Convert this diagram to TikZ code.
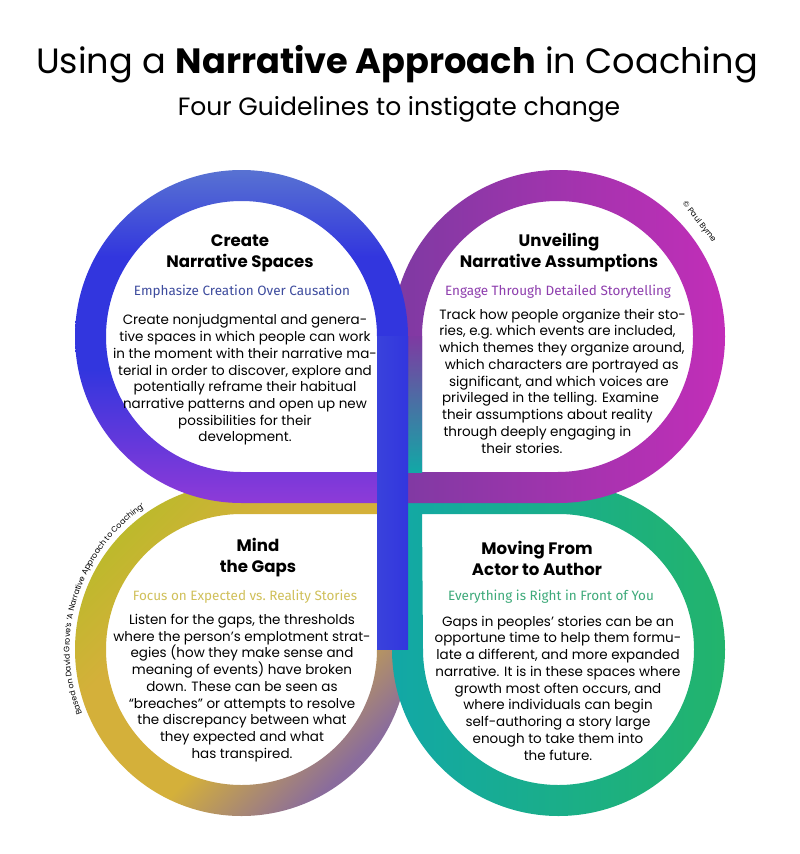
\documentclass[tikz,border=0pt]{standalone}
\usepackage{fontspec}
\setmainfont{Poppins}
\newfontfamily\fira{Fira Sans}
\usetikzlibrary{decorations.text}
\definecolor{tlblue}{HTML}{5872D2}
\definecolor{tldeep}{HTML}{3236DE}
\definecolor{tlpurp}{HTML}{8E3AD8}
\definecolor{trdark}{HTML}{7E3AA2}
\definecolor{trmag}{HTML}{C22EB8}
\definecolor{blyel}{HTML}{BDB92C}
\definecolor{blgold}{HTML}{D4B03A}
\definecolor{blmauve}{HTML}{8A6C9C}
\definecolor{brgreen}{HTML}{22B46C}
\definecolor{brteal}{HTML}{12A8A6}
\definecolor{subtl}{HTML}{3E4C9E}
\definecolor{subtr}{HTML}{8E3EAE}
\definecolor{subbl}{HTML}{D0C05A}
\definecolor{subbr}{HTML}{3EAA7A}
\pgfdeclareverticalshading{blshade}{100bp}{color(0bp)=(blmauve); color(26bp)=(blmauve);
  color(42bp)=(blgold); color(62bp)=(blgold); color(75bp)=(blyel); color(100bp)=(blyel)}
\pgfdeclareverticalshading{tlshade}{100bp}{color(0bp)=(tlpurp); color(25bp)=(tlpurp);
  color(45bp)=(tldeep); color(62bp)=(tldeep); color(75bp)=(tlblue); color(100bp)=(tlblue)}

\begin{document}
\begin{tikzpicture}[x=0.025cm,y=-0.025cm,
  head/.style={font=\bfseries\fontsize{11.8}{14.9}\selectfont,align=center,inner sep=0pt},
  sub/.style={font=\fira\fontsize{9.6}{11}\selectfont,inner sep=0pt},
  body/.style={font=\fontsize{9.6}{11.9}\selectfont,align=center,inner sep=0pt},
  tiny/.style={font=\fontsize{5.6}{6}\selectfont,inner sep=0pt}]
\useasboundingbox[fill=white] (0,0) rectangle (800,854);

% rings: bottom loops first, top loops over them
\shade[even odd rule,shading=blshade,shading angle=45]
  (408,483) -- (408,649.5) arc[start angle=0,end angle=270,radius=166.5] -- cycle
  (377,514) -- (377,649.5) arc[start angle=0,end angle=270,radius=135.5] -- cycle;
\shade[even odd rule,left color=brteal,right color=brgreen]
  (392,483) -- (558.5,483) arc[start angle=-90,end angle=180,radius=166.5] -- cycle
  (422,514) -- (558.5,514) arc[start angle=-90,end angle=180,radius=135.5] -- cycle;
\shade[even odd rule,left color=trdark,right color=trmag]
  (392,503) -- (392,336.5) arc[start angle=180,end angle=450,radius=166.5] -- cycle
  (422,472) -- (422,336.5) arc[start angle=180,end angle=450,radius=135.5] -- cycle;
\shade[top color=trdark,bottom color=brteal] (392,336.5) rectangle (422,472);
\shade[even odd rule,shading=tlshade]
  (408,503) -- (241.5,503) arc[start angle=90,end angle=360,radius=166.5] -- cycle
  (377,472) -- (241.5,472) arc[start angle=90,end angle=360,radius=135.5] -- cycle;
\shade[left color=tldeep!80!tlblue,right color=tldeep] (377,336.5) rectangle (408,649.5);

% titles
\node[font=\fontsize{25}{30}\selectfont] (title) at (397,64)
  {Using a \textbf{Narrative Approach} in Coaching};
\node[font=\fontsize{17.8}{21}\selectfont] (subtitle) at (399,109)
  {Four Guidelines to instigate change};

% top left
\node[head] (h1) at (240,253) {Create\\Narrative Spaces};
\node[sub,text=subtl] (s1) at (242,292) {Emphasize Creation Over Causation};
\node[body] (b1) at (245,380) {Create nonjudgmental and genera-\\
  tive spaces in which people can work\\
  in the moment with their narrative ma-\\
  terial in order to discover, explore and\\
  potentially reframe their habitual\\
  narrative patterns and open up new\\
  possibilities for their\\
  development.};

% top right
\node[head] (h2) at (559,253) {Unveiling\\Narrative Assumptions};
\node[sub,text=subtr] (s2) at (558,292) {Engage Through Detailed Storytelling};
\node[body,align=left,anchor=west] (b2) at (439,381) {Track how people organize their sto-\\
  ries, e.g.\ which events are included,\\
  which themes they organize around,\\
  \hspace*{4pt}which characters are portrayed as\\
  \hspace*{7pt}significant, and which voices are\\
  \hspace*{2pt}privileged in the telling. Examine\\
  \hspace*{2pt}their assumptions about reality\\
  \hspace*{3pt}through deeply engaging in\\
  \hspace*{30pt}their stories.};

% bottom left
\node[head] (h3) at (258,558) {Mind\\the Gaps};
\node[sub,text=subbl] (s3) at (245,597) {Focus on Expected vs.\ Reality Stories};
\node[body] (b3) at (242,688) {Listen for the gaps, the thresholds\\
  where the person’s emplotment strat-\\
  egies (how they make sense and\\
  meaning of events) have broken\\
  down. These can be seen as\\
  “breaches” or attempts to resolve\\
  the discrepancy between what\\
  they expected and what\\
  has transpired.};

% bottom right
\node[head] (h4) at (537,558) {Moving From\\Actor to Author};
\node[sub,text=subbr] (s4) at (551,597) {Everything is Right in Front of You};
\node[body] (b4) at (558,688) {Gaps in peoples’ stories can be an\\
  opportune time to help them formu-\\
  late a different, and more expanded\\
  narrative. It is in these spaces where\\
  growth most often occurs, and\\
  where individuals can begin\\
  self-authoring a story large\\
  enough to take them into\\
  the future.};

% credits
\node[tiny,rotate=-52] (credit) at (699,222) {© Paul Byrne};
\path[decorate,decoration={text along path,
  text={|\fontsize{5.6}{6}\selectfont|Based on David Grove’s ‘A Narrative Approach to Coaching’}}]
  (241.5,649.5) ++(158:172) arc[start angle=158,end angle=255,radius=172];
\end{tikzpicture}
\end{document}
